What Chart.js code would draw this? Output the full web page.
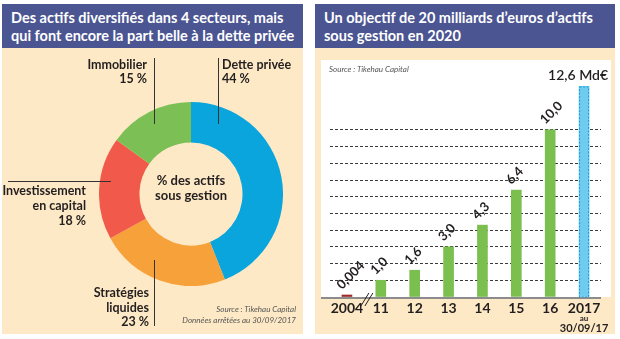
<!DOCTYPE html>
<html>
<head>
<meta charset="utf-8">
<script src="https://cdn.jsdelivr.net/npm/chart.js@4.4.1/dist/chart.umd.min.js"></script>
<style>
  body { margin: 0; width: 620px; height: 339px; background: #fff; position: relative; overflow: hidden; font-family: Lato, "Open Sans", sans-serif; }
  .panel { position: absolute; top: 48px; height: 286px; background: #fde9c5; }
  .head { position: absolute; top: 4px; height: 44px; background: #4b5592; color: #fff; font-weight: 700; font-size: 14.5px; line-height: 18px; box-sizing: border-box; padding: 5px 0 0 9px; white-space: nowrap; }
  .lbl { position: absolute; font-weight: 700; font-size: 12.5px; line-height: 13.5px; color: #231f20; white-space: nowrap; }
  .line { position: absolute; background: #333; }
  .src { position: absolute; font-style: italic; font-size: 8px; color: #555; line-height: 11px; white-space: nowrap; }
  canvas { position: absolute; }
</style>
</head>
<body>
<div class="panel" style="left:2px;width:301px"></div>
<div class="panel" style="left:315px;width:300px"></div>
<div style="position:absolute;left:321px;top:60px;width:290px;height:237px;background:#fff"></div>

<div class="head" style="left:2px;width:301px">Des actifs diversifiés dans 4 secteurs, mais<br>qui font encore la part belle à la dette privée</div>
<div class="head" style="left:315px;width:300px">Un objectif de 20 milliards d’euros d’actifs<br>sous gestion en 2020</div>

<canvas id="donut" width="184" height="184" style="left:99px;top:102px"></canvas>
<canvas id="bars" width="300" height="286" style="left:315px;top:48px"></canvas>

<!-- donut labels and leader lines -->
<div class="line" style="left:154px;top:58px;width:1px;height:66px"></div>
<div class="line" style="left:218px;top:58px;width:1px;height:66px"></div>
<div class="line" style="left:8px;top:181px;width:103px;height:1px"></div>
<div class="line" style="left:154px;top:260px;width:1px;height:66px"></div>
<div class="lbl" style="right:473px;top:58px;text-align:right">Immobilier<br>15 %</div>
<div class="lbl" style="left:222px;top:58px">Dette privée<br>44 %</div>
<div class="lbl" style="right:534px;top:183px;text-align:right;line-height:15px">Investissement<br>en capital<br>18 %</div>
<div class="lbl" style="right:471px;top:286px;text-align:right;line-height:14.5px">Stratégies<br>liquides<br>23 %</div>
<div class="lbl" style="left:131px;width:120px;top:173px;text-align:center;line-height:15px;font-size:13px">% des actifs<br>sous gestion</div>
<div class="src" style="right:324px;top:304px;text-align:right">Source : Tikehau Capital<br>Données arrêtées au 30/09/2017</div>
<div class="src" style="left:329px;top:64px">Source : Tikehau Capital</div>

<script>
// split of assets under management (%)
const sectors = ["Dette privée", "Stratégies liquides", "Investissement en capital", "Immobilier"];
const shares = [44, 23, 18, 15];
const sectorColors = ["#0ba5dd", "#f7a13b", "#f15a4a", "#7cbf55"];

// assets under management, billions of euros
const years = ["2004", "11", "12", "13", "14", "15", "16", "2017"];
const assets = [0.004, 1.0, 1.6, 3.0, 4.3, 6.4, 10.0, 12.6];
const gridValues = [1, 2, 3, 4, 5, 6, 7, 8, 9, 10];

function fmt(v) {
  return (v < 0.1 ? v.toFixed(3) : v.toFixed(1)).replace(".", ",");
}

new Chart(document.getElementById("donut"), {
  type: "doughnut",
  data: {
    labels: sectors,
    datasets: [{ data: shares, backgroundColor: sectorColors, borderWidth: 0 }],
  },
  options: {
    responsive: false,
    animation: false,
    cutout: "56%",
    layout: { padding: 0 },
    plugins: { legend: { display: false }, tooltip: { enabled: false } },
  },
});

const barDecor = {
  id: "barDecor",
  afterDatasetsDraw(chart) {
    const { ctx, scales } = chart;
    const bars = chart.getDatasetMeta(0).data;
    const zero = scales.y.getPixelForValue(0);
    ctx.save();

    // base line
    ctx.strokeStyle = "#8c8c8c";
    ctx.lineWidth = 2;
    ctx.beginPath();
    ctx.moveTo(6, zero + 1);
    ctx.lineTo(chart.chartArea.right, zero + 1);
    ctx.stroke();

    // dashed outline on the 2017 bar
    const last = bars[bars.length - 1];
    ctx.strokeStyle = "#1b9ad6";
    ctx.lineWidth = 1;
    ctx.setLineDash([2, 1.5]);
    ctx.strokeRect(last.x - last.width / 2 + 0.5, last.y + 0.5, last.width - 1, last.base - last.y);
    ctx.setLineDash([]);

    // value labels
    ctx.fillStyle = "#231f20";
    bars.forEach((bar, i) => {
      if (i === bars.length - 1) {
        ctx.font = "600 14px Lato, sans-serif";
        ctx.textAlign = "center";
        ctx.textBaseline = "alphabetic";
        ctx.fillText(fmt(assets[i]) + " Md€", bar.x - 6, bar.y - 6);
        return;
      }
      ctx.save();
      ctx.translate(bar.x - 5, bar.y - 5);
      ctx.rotate(-45 * Math.PI / 180);
      ctx.font = "700 13px Lato, sans-serif";
      ctx.textAlign = "left";
      ctx.textBaseline = "alphabetic";
      ctx.fillText(fmt(assets[i]), 0, 0);
      ctx.restore();
    });

    // axis break between 2004 and 2011
    const bx = (bars[0].x + bars[1].x) / 2 + 3;
    ctx.strokeStyle = "#231f20";
    ctx.lineWidth = 1;
    [-2, 2].forEach((d) => {
      ctx.beginPath();
      ctx.moveTo(bx + d - 4, zero + 9);
      ctx.lineTo(bx + d + 4, zero - 4);
      ctx.stroke();
    });

    // date note under 2017
    ctx.textAlign = "center";
    ctx.textBaseline = "middle";
    ctx.font = "700 8px Lato, sans-serif";
    ctx.fillText("au", last.x, zero + 21);
    ctx.font = "700 11px Lato, sans-serif";
    ctx.fillText("30/09/17", last.x, zero + 31);
    ctx.restore();
  },
};

new Chart(document.getElementById("bars"), {
  type: "bar",
  data: {
    labels: years,
    datasets: [{
      data: assets,
      backgroundColor: ["#a0282a", "#7bbf4f", "#7bbf4f", "#7bbf4f", "#7bbf4f", "#7bbf4f", "#7bbf4f", "#6fcbf0"],
      borderWidth: 0,
      barThickness: 10,
      minBarLength: 2,
    }],
  },
  options: {
    responsive: false,
    animation: false,
    layout: { padding: { left: 15, right: 14, top: 15, bottom: 0 } },
    plugins: { legend: { display: false }, tooltip: { enabled: false } },
    scales: {
      x: {
        grid: { display: false, drawTicks: false },
        border: { display: false },
        ticks: { color: "#231f20", font: { family: "Lato", size: 14, weight: "700" }, padding: 3, maxRotation: 0, autoSkip: false },
        afterFit(scale) { scale.height = 37; },
      },
      y: {
        min: 0,
        max: 14,
        ticks: { display: false, stepSize: 1 },
        border: { display: false, dash: [3, 2] },
        grid: {
          drawTicks: false,
          lineWidth: 1,
          color: (c) => (gridValues.includes(c.tick.value) ? "#3a3a3a" : "rgba(0,0,0,0)"),
        },
        afterFit(scale) { scale.width = 0; },
      },
    },
  },
  plugins: [barDecor],
});
</script>
</body>
</html>
